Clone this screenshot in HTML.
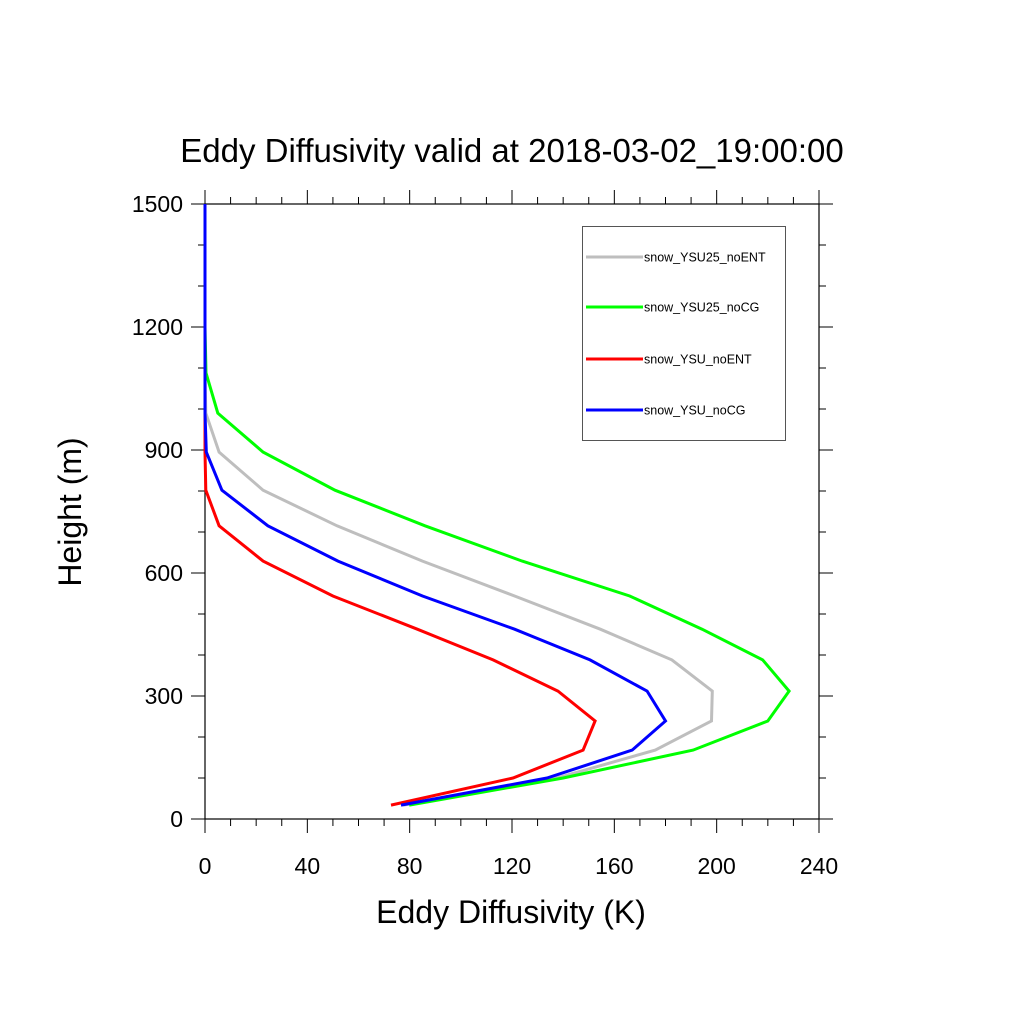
<!DOCTYPE html>
<html><head><meta charset="utf-8"><style>
html,body{margin:0;padding:0;background:#fff;}
svg{display:block;font-family:"Liberation Sans",sans-serif;}
</style></head><body>
<svg id="chart" width="1024" height="1024" viewBox="0 0 1024 1024">
<rect width="1024" height="1024" fill="#fff"/>
<text x="512" y="162" font-size="33" text-anchor="middle">Eddy Diffusivity valid at 2018-03-02_19:00:00</text>
<g id="axes"></g>
<g id="series"></g>
<text x="511" y="923" font-size="32" text-anchor="middle">Eddy Diffusivity (K)</text>
<text x="0" y="0" font-size="32" text-anchor="middle" transform="translate(81,512) rotate(-90)">Height (m)</text>
<g>
<rect x="582.5" y="226.5" width="203" height="214" fill="#fff" stroke="#555" stroke-width="1"/>
<g id="legend-items"></g>
</g>
</svg>
<script>
const heights = [34, 100, 168, 239, 312, 388, 463, 544, 629, 715, 802, 895, 990, 1088, 1200, 1350, 1500];
const seriesNames = ["snow_YSU25_noENT", "snow_YSU25_noCG", "snow_YSU_noENT", "snow_YSU_noCG"];
const grayValues  = [77.5, 137.6, 176, 198, 198.3, 182.5, 154.5, 121, 85, 51.6, 22.7, 5.5, 0.3, 0, 0, 0, 0];
const greenValues = [79.8, 140, 190.8, 220, 228.3, 218, 194.3, 166, 124, 86, 50.8, 22.7, 5, 0.4, 0, 0, 0];
const redValues   = [72.7, 120.4, 147.8, 152.5, 138, 112.6, 83, 50, 22.7, 5.5, 0.3, 0, 0, 0, 0, 0, 0];
const blueValues  = [76.6, 133.7, 167, 180, 172.8, 150.5, 121, 85, 52, 24.6, 6.6, 0.5, 0, 0, 0, 0, 0];
const xTicks = [0, 40, 80, 120, 160, 200, 240];
const yTicks = [0, 300, 600, 900, 1200, 1500];

const NS = "http://www.w3.org/2000/svg";
const X0 = 205, X1 = 819, Y0 = 819, Y1 = 204;
const xs = v => X0 + (v / 240) * (X1 - X0);
const ys = v => Y0 - (v / 1500) * (Y0 - Y1);
function mk(tag, attrs, parent) {
  const e = document.createElementNS(NS, tag);
  for (const k in attrs) e.setAttribute(k, attrs[k]);
  parent.appendChild(e);
  return e;
}
const axes = document.getElementById("axes");
const frame = mk("rect", {x: X0, y: Y1, width: X1 - X0, height: Y0 - Y1, fill: "none", stroke: "#000", "stroke-width": 1.2}, axes);


// x ticks
for (let v = 0; v <= 240; v += 10) {
  const major = v % 40 === 0;
  const L = major ? 14 : 7;
  const x = xs(v);
  const t1 = mk("line", {x1: x, x2: x, y1: Y0, y2: Y0 + L, stroke: "#000", "stroke-width": 1}, axes);
  
  
  const t2 = mk("line", {x1: x, x2: x, y1: Y1, y2: Y1 - L, stroke: "#000", "stroke-width": 1}, axes);
  
  
}
xTicks.forEach(v => {
  const t = mk("text", {x: xs(v), y: Y0 + 55, "font-size": 23, "text-anchor": "middle"}, axes);
  t.textContent = v;
  
  
});
// y ticks
for (let v = 0; v <= 1500; v += 100) {
  const major = v % 300 === 0;
  const L = major ? 14 : 7;
  const y = ys(v);
  const t1 = mk("line", {x1: X0, x2: X0 - L, y1: y, y2: y, stroke: "#000", "stroke-width": 1}, axes);
  
  
  const t2 = mk("line", {x1: X1, x2: X1 + L, y1: y, y2: y, stroke: "#000", "stroke-width": 1}, axes);
  
  
}
yTicks.forEach(v => {
  const t = mk("text", {x: X0 - 22, y: ys(v) + 8, "font-size": 23, "text-anchor": "end"}, axes);
  t.textContent = v;
  
  
});
// series
const sg = document.getElementById("series");
const all = [[grayValues, "#bebebe", "line-snow-ysu25-noent"], [greenValues, "#00ff00", "line-snow-ysu25-nocg"],
             [redValues, "#ff0000", "line-snow-ysu-noent"], [blueValues, "#0000ff", "line-snow-ysu-nocg"]];
all.forEach(([vals, col, name]) => {
  const pts = vals.map((v, i) => xs(v).toFixed(1) + "," + ys(heights[i]).toFixed(1)).join(" ");
  const p = mk("polyline", {points: pts, fill: "none", stroke: col, "stroke-width": 3, "stroke-linejoin": "miter"}, sg);
  
  
});
// legend
const lg = document.getElementById("legend-items");
const legendColors = ["#bebebe", "#00ff00", "#ff0000", "#0000ff"];
const legendY = [257, 307, 359, 410];
seriesNames.forEach((n, i) => {
  const l = mk("line", {x1: 586, x2: 643, y1: legendY[i], y2: legendY[i], stroke: legendColors[i], "stroke-width": 3}, lg);
  
  
  const t = mk("text", {x: 644, y: legendY[i] + 4.5, "font-size": 12.5}, lg);
  t.textContent = n;
  
  
});
</script>
</body></html>
